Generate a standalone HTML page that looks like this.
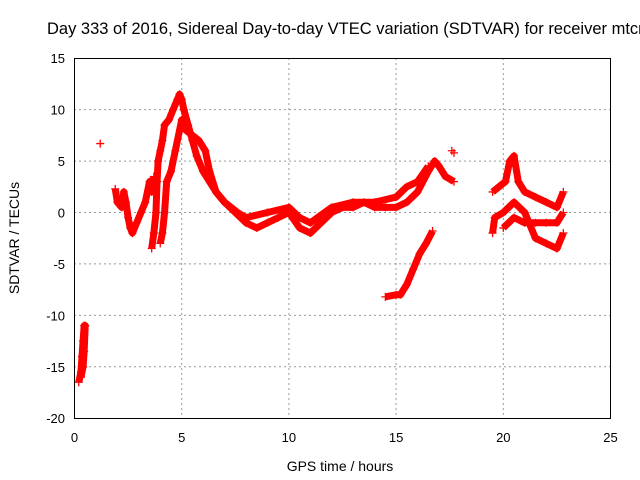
<!DOCTYPE html>
<html><head><meta charset="utf-8"><style>
body{margin:0;background:#fff;}
svg{display:block;font-family:"Liberation Sans",sans-serif;}
</style></head><body>
<svg id="chart" width="640" height="480">
<text x="47" y="34" font-size="16.5" text-anchor="start">Day 333 of 2016, Sidereal Day-to-day VTEC variation (SDTVAR) for receiver mtcn</text>
<text x="340" y="471" font-size="14" text-anchor="middle">GPS time / hours</text>
<text transform="translate(19,238) rotate(-90)" font-size="14" text-anchor="middle">SDTVAR / TECUs</text>
<g id="grid"></g><g id="ticks"></g><g id="marks"></g>
<rect x="74.5" y="58.5" width="536" height="360" fill="none" stroke="#000"/>
</svg>
<script>
const xTicks=[0,5,10,15,20,25];
const yTicks=[15,10,5,0,-5,-10,-15,-20];
const trackA_x=[0.2,0.3,0.35,0.4,0.45,0.5,0.45,0.4,0.3];
const trackA_y=[-16.5,-15.5,-14,-12.5,-11,-11,-13.5,-15,-16];
const single_x=[1.2,17.6,17.7];
const single_y=[6.7,6,5.8];
const trackB_x=[1.9,2.0,2.2,2.3,2.4,2.5,2.6,2.7,2.9,3.1,3.3,3.5,3.6,3.7];
const trackB_y=[2.3,1,0.5,2,1,-0.5,-1.5,-2,-1,0,1,3,2,3.5];
const trackC_x=[3.6,3.7,3.8,3.85,3.9,4.0,4.1,4.2,4.4,4.6,4.8,4.9,5.0,5.1,5.3,5.5,5.7,6.0,6.3,6.6,7,7.5,8,8.5,9,9.5,10,10.5,11,11.5,12,12.5,13,13.5,14,14.5,15,15.5,16,16.5,16.8,17,17.3,17.7];
const trackC_y=[-3.5,-2,0,3,5,6,7,8.5,9,10,11,11.5,11,10,8.5,7,5.5,4,3,2,1,0,-1,-1.5,-1,-0.5,0,-1.5,-2,-1,0,0.5,0.5,1,0.5,0.5,0.5,1,2,4,5,4.5,3.5,3];
const trackD_x=[4.0,4.1,4.2,4.3,4.5,4.7,5.0,5.2,5.5,5.8,6.1,6.3,6.6,7,7.3,7.6,8,9,10,10.5,11,12,13,14,15,15.5,16,16.5];
const trackD_y=[-3,-2,0,3,4,6,9,8,7.5,7,6,4,2,1,0.5,0,-0.5,0,0.5,-0.5,-1,0.5,1,1,1.5,2.5,3,4.5];
const trackE_x=[14.5,15,15.2,15.5,15.8,16.1,16.4,16.7];
const trackE_y=[-8.2,-8,-8,-7,-5.5,-4,-3,-1.8];
const trackF_x=[19.5,19.8,20.1,20.3,20.5,20.7,21,21.5,22,22.5,22.8];
const trackF_y=[2,2.5,3,5,5.5,3,2,1.5,1,0.5,2];
const trackG_x=[19.5,19.6,20,20.5,21,21.5,22,22.5,22.8];
const trackG_y=[-2,-0.5,0,1,0,-2.5,-3,-3.5,-2];
const trackH_x=[20,20.5,21,21.5,22,22.5,22.8];
const trackH_y=[-1.5,-0.5,-1,-1,-1,-1,0];
const NS="http://www.w3.org/2000/svg";
const X=v=>74.5+v*21.44, Y=v=>212.5-v*10.286;
function mk(t,a,p){const e=document.createElementNS(NS,t);for(const k in a)e.setAttribute(k,a[k]);p.appendChild(e);return e;}
const grid=document.getElementById('grid'),ticks=document.getElementById('ticks'),marks=document.getElementById('marks');
xTicks.forEach(v=>{
 if(v>0&&v<25){const g=mk('line',{x1:X(v),x2:X(v),y1:58,y2:418,stroke:'#999','stroke-dasharray':'2,3'},grid);
 
 }
 const t=mk('text',{x:X(v),y:442,'font-size':13,'text-anchor':'middle'},ticks);t.textContent=v;
 
 
});
yTicks.forEach(v=>{
 if(v<15&&v>-20){const g=mk('line',{x1:74,x2:610,y1:Y(v),y2:Y(v),stroke:'#999','stroke-dasharray':'2,3'},grid);
 
 }
 const t=mk('text',{x:65,y:Y(v)+5,'font-size':13,'text-anchor':'end'},ticks);t.textContent=v;
 
 
});
const tracks=[[trackA_x,trackA_y],[trackB_x,trackB_y],[trackC_x,trackC_y],[trackD_x,trackD_y],[trackE_x,trackE_y],[trackF_x,trackF_y],[trackG_x,trackG_y],[trackH_x,trackH_y]];
tracks.forEach(([xs,ys])=>{
 const pl=mk('polyline',{points:xs.map((x,i)=>X(x)+','+Y(ys[i])).join(' '),fill:'none',stroke:'#f00','stroke-width':7,'stroke-linejoin':'round'},marks);
 
 
});
tracks.concat([[single_x,single_y]]).forEach(([xs,ys])=>{
 xs.forEach((x,i)=>{const px=X(x),py=Y(ys[i]);
  const p=mk('path',{d:`M${px-4},${py}h8M${px},${py-4}v8`,stroke:'#f00','stroke-width':1.3},marks);
  
  
 });
});
</script>
</body></html>
